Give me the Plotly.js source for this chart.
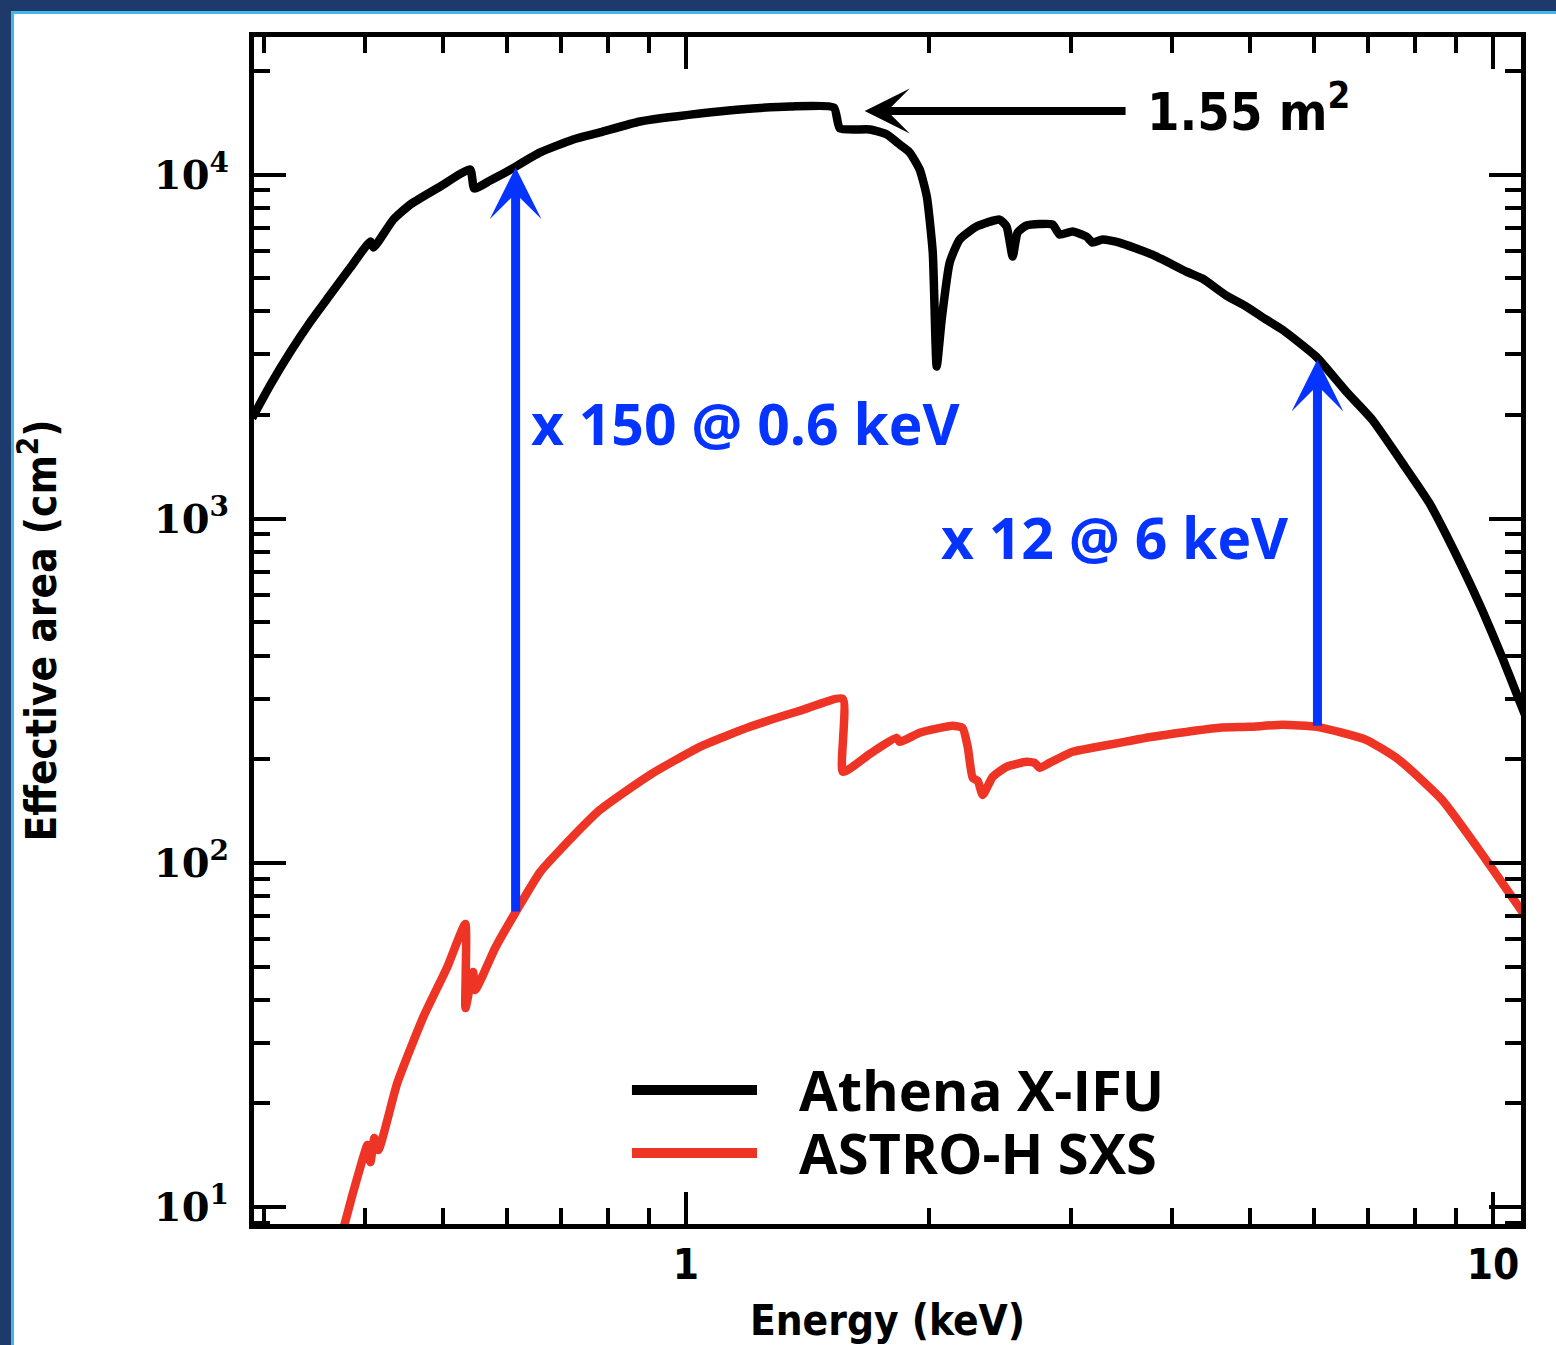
<!DOCTYPE html>
<html>
<head>
<meta charset="utf-8">
<script src="https://cdn.plot.ly/plotly-3.0.1.min.js"></script>
<style>
  html, body { margin: 0; padding: 0; background: #ffffff; }
  #wrap { position: relative; width: 1556px; height: 1345px; overflow: hidden; }
  #chart { position: absolute; left: 0; top: 0; width: 1556px; height: 1345px; }
  .band { position: absolute; pointer-events: none; z-index: 10; }
</style>
</head>
<body>
<div id="wrap">
  <div id="chart"></div>
  <div class="band" style="left:0;top:0;width:1556px;height:11px;background:#1e3a6b;"></div>
  <div class="band" style="left:0;top:0;width:11px;height:1345px;background:#1e3a6b;"></div>
  <div class="band" style="left:11px;top:11px;width:1545px;height:3px;background:#45b4e8;"></div>
  <div class="band" style="left:11px;top:11px;width:3px;height:1334px;background:#45b4e8;"></div>
</div>
<script>
// ---- Data ----
const seriesNames = ["Athena X-IFU", "ASTRO-H SXS"];

// Athena X-IFU effective area (energy keV, area cm^2)
const athenaEnergy = [0.29, 0.3056, 0.3236, 0.3425, 0.3625, 0.3838, 0.4064, 0.4100, 0.4339, 0.4554,
  0.4961, 0.5403, 0.5465, 0.5720, 0.6004, 0.6598, 0.7249, 0.7825, 0.8771, 1.0407,
  1.166, 1.345, 1.525, 1.551, 1.690, 1.774, 1.840, 1.893, 1.948, 1.988,
  2.022, 2.045, 2.074, 2.122, 2.183, 2.291, 2.446, 2.496, 2.540, 2.576,
  2.642, 2.846, 2.903, 3.013, 3.135, 3.189, 3.282, 3.444, 3.784, 4.169,
  4.364, 4.673, 4.947, 5.237, 5.482, 6.038, 6.579, 7.084, 7.717, 8.334,
  9.155, 9.692, 10.26, 10.83, 11.08];
const athenaArea = [1960, 2452, 3059, 3738, 4479, 5366, 6386, 6135, 7400, 8180,
  9229, 10340, 9107, 9607, 10200, 11590, 12640, 13250, 14260, 15040,
  15450, 15760, 15650, 13610, 13520, 13070, 12220, 11590, 10340, 8630,
  5934, 2767, 3788, 5549, 6471, 7061, 7400, 7061, 5776, 6784,
  7108, 7157, 6693, 6829, 6604, 6343, 6471, 6343, 5854, 5224,
  4985, 4449, 4133, 3788, 3543, 2957, 2340, 1940, 1455, 1113,
  725, 544, 397, 288, 252];

// ASTRO-H SXS effective area (energy keV, area cm^2)
const sxsEnergy = [0.3730, 0.3860, 0.3972, 0.4029, 0.4064, 0.4110, 0.4157, 0.4388, 0.4726, 0.5061,
  0.5327, 0.5330, 0.5403, 0.5449, 0.5480, 0.5802, 0.6142, 0.6598, 0.6983, 0.7825,
  0.9026, 1.0407, 1.200, 1.384, 1.564, 1.565, 1.690, 1.824, 1.840, 1.948,
  2.140, 2.201, 2.234, 2.266, 2.299, 2.332, 2.399, 2.496, 2.642, 2.704,
  2.743, 2.822, 3.013, 3.189, 3.444, 3.784, 4.580, 4.989, 5.482, 6.056,
  6.963, 7.648, 8.648, 9.610, 10.83, 11.08];
const sxsArea = [8.02, 10.84, 13.70, 15.14, 13.51, 15.87, 14.64, 22.94, 35.67, 49.86,
  66.47, 37.88, 44.19, 48.21, 42.73, 56.60, 71.54, 94.15, 109.1, 142.6,
  180.3, 217.4, 248.5, 276.7, 299.7, 183.9, 207.5, 230.9, 224.7, 238.8,
  250.2, 246.9, 217.4, 176.6, 173.1, 157.6, 177.8, 190.1, 196.6, 195.3,
  188.9, 195.3, 210.3, 216.0, 223.3, 232.5, 246.9, 248.5, 251.8, 248.5,
  227.8, 199.3, 152.5, 109.1, 73.0, 67.4];

// Ratio arrows: energy, from (SXS area) to (X-IFU area), and labels
const ratioEnergy = [0.615, 6.06];
const ratioFrom   = [71.5, 248];
const ratioTo     = [10480, 2899];
const ratioLabels = ["x 150 @ 0.6 keV", "x 12 @ 6 keV"];

// Peak-area callout
const peakLabel = "1.55 m<sup>2</sup>";
const peakArrowTip  = [1.665, 15290];   // energy, area
const peakArrowTail = [3.52, 15290];

// Axis ticks
const xMajorVals = [1, 10];
const xMajorText = ["1", "10"];
const yMajorVals = [10, 100, 1000, 10000];
const yMajorText = ["10<sup>1</sup>", "10<sup>2</sup>", "10<sup>3</sup>", "10<sup>4</sup>"];
const minorDigits = [2, 3, 4, 5, 6, 7, 8, 9];
const xMinorVals = [];
[0.1, 1].forEach(d => minorDigits.forEach(k => xMinorVals.push(+(k * d).toFixed(3))));
const yMinorVals = [];
[1, 10, 100, 1000, 10000].forEach(d => minorDigits.forEach(k => yMinorVals.push(k * d)));

// ---- Styles ----
const condensed = "DejaVu Sans Condensed, Liberation Sans Narrow, sans-serif";
const blue = "#0533ff";
const red = "#ee3424";

const traces = [
  { x: athenaEnergy, y: athenaArea, name: seriesNames[0], mode: "lines",
    line: { color: "#000000", width: 8.5, shape: "spline", smoothing: 0.5 }, showlegend: false },
  { x: sxsEnergy, y: sxsArea, name: seriesNames[1], mode: "lines",
    line: { color: red, width: 8.5, shape: "spline", smoothing: 0.5 }, showlegend: false }
];

const L = Math.log10;
const annotations = [];
ratioEnergy.forEach((e, i) => {
  annotations.push({
    x: L(e), y: L(ratioTo[i]), xref: "x", yref: "y",
    ax: L(e), ay: L(ratioFrom[i]), axref: "x", ayref: "y",
    text: "", showarrow: true, arrowhead: 3, arrowsize: 0.96, arrowwidth: 9,
    arrowcolor: blue, standoff: 0, startstandoff: 0
  });
});
annotations.push({
  x: 0.2170, y: 0.6750, xref: "paper", yref: "paper", xanchor: "left", yanchor: "middle",
  text: ratioLabels[0], showarrow: false,
  font: { family: "Open Sans, sans-serif", size: 57, color: blue, weight: "bold" }
});
annotations.push({
  x: 0.5410, y: 0.5790, xref: "paper", yref: "paper", xanchor: "left", yanchor: "middle",
  text: ratioLabels[1], showarrow: false,
  font: { family: "Open Sans, sans-serif", size: 57, color: blue, weight: "bold" }
});
annotations.push({
  x: L(peakArrowTip[0]), y: L(peakArrowTip[1]), xref: "x", yref: "y",
  ax: L(peakArrowTail[0]), ay: L(peakArrowTail[1]), axref: "x", ayref: "y",
  text: "", showarrow: true, arrowhead: 3, arrowsize: 0.94, arrowwidth: 8,
  arrowcolor: "#000000", standoff: 0
});
annotations.push({
  x: 0.7030, y: 0.9405, xref: "paper", yref: "paper", xanchor: "left", yanchor: "middle",
  text: peakLabel, showarrow: false,
  font: { family: condensed, size: 52, color: "#000000", weight: "bold" }
});

// Custom legend (long line samples as in the reference)
const legendY = [0.1129, 0.0598];
const legendColors = ["#000000", red];
const shapes = [];
seriesNames.forEach((nm, i) => {
  shapes.push({ type: "line", xref: "paper", yref: "paper",
    x0: 0.2983, x1: 0.3970, y0: legendY[i], y1: legendY[i],
    line: { color: legendColors[i], width: 10 } });
  annotations.push({ x: 0.4290, y: legendY[i] + 0.001, xref: "paper", yref: "paper",
    xanchor: "left", yanchor: "middle", text: nm, showarrow: false, borderpad: 0,
    font: { family: "Open Sans, sans-serif", size: 56, color: "#000000", weight: "bold" } });
});

const axisCommon = {
  type: "log", showline: true, linewidth: 5, linecolor: "#000000", mirror: "allticks",
  ticks: "inside", ticklen: 32, tickwidth: 4, tickcolor: "#000000",
  showgrid: false, zeroline: false, tickmode: "array", automargin: false
};

const layout = {
  width: 1556, height: 1345,
  margin: { l: 254, r: 35, t: 37, b: 121, pad: 0 },
  paper_bgcolor: "#ffffff", plot_bgcolor: "#ffffff",
  showlegend: false,
  xaxis: Object.assign({}, axisCommon, {
    range: [-0.5353, 1.0347],
    tickvals: xMajorVals, ticktext: xMajorText,
    tickfont: { family: condensed, size: 42, color: "#000000", weight: "bold" },
    ticklabelstandoff: 0,
    minor: { tickmode: "array", tickvals: xMinorVals, ticks: "inside", ticklen: 16, tickwidth: 4, tickcolor: "#000000", showgrid: false },
    title: { text: "Energy (keV)", standoff: 28,
      font: { family: condensed, size: 42, color: "#000000", weight: "bold" } }
  }),
  yaxis: Object.assign({}, axisCommon, {
    range: [0.9509, 4.3995],
    tickvals: yMajorVals, ticktext: yMajorText,
    tickfont: { family: "DejaVu Serif, serif", size: 40, color: "#000000", weight: "bold" },
    ticklabelstandoff: 12,
    minor: { tickmode: "array", tickvals: yMinorVals, ticks: "inside", ticklen: 16, tickwidth: 4, tickcolor: "#000000", showgrid: false },
    title: { text: "Effective area (cm<sup>2</sup>)", standoff: 86,
      font: { family: condensed, size: 42, color: "#000000", weight: "bold" } }
  }),
  annotations: annotations,
  shapes: shapes
};

Plotly.newPlot("chart", traces, layout, { staticPlot: true, displayModeBar: false });
</script>
</body>
</html>
